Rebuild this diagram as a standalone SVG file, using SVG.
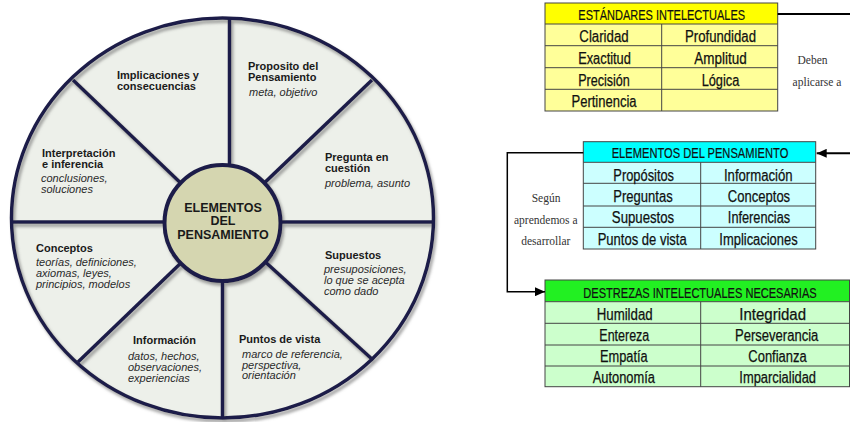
<svg xmlns="http://www.w3.org/2000/svg" width="850" height="422" viewBox="0 0 850 422">
<defs>
<filter id="sh" x="-10%" y="-10%" width="120%" height="120%">
<feDropShadow dx="2" dy="3" stdDeviation="1.6" flood-color="#7a7a7a" flood-opacity="0.7"/>
</filter>
<marker id="arr" markerUnits="userSpaceOnUse" markerWidth="10" markerHeight="9" refX="10" refY="4.5" orient="auto">
<path d="M0,0 L10,4.5 L0,9 z" fill="#000"/>
</marker>
</defs>
<style>
.b{font-family:"Liberation Sans",Arial,sans-serif;font-weight:bold;font-size:11px;fill:#1a1a1a}
.i{font-family:"Liberation Sans",Arial,sans-serif;font-style:italic;font-size:11px;fill:#2a2a2a}
.c{font-family:"Liberation Sans",Arial,sans-serif;font-weight:bold;font-size:12.5px;fill:#1a1a1a;text-anchor:middle}
.spk{stroke:#1f1f48;stroke-width:3.5;fill:none}
.t{font-family:"Liberation Sans Narrow","Liberation Sans",Arial,sans-serif;font-size:16px;fill:#111;stroke:#111;stroke-width:0.25;text-anchor:middle}
.h{font-family:"Liberation Sans Narrow","Liberation Sans",Arial,sans-serif;font-size:14.5px;fill:#111;stroke:#111;stroke-width:0.2;text-anchor:middle}
.g{stroke:#444;stroke-width:1;fill:none}
.s{font-family:"Liberation Serif","Times New Roman",serif;font-size:11.5px;fill:#333;text-anchor:middle}
.cn{stroke:#000;fill:none}
</style>
<rect width="850" height="422" fill="#fff"/>

<g id="wheel">
<ellipse cx="222.5" cy="218" rx="211" ry="200" fill="#edf0ea"/>
<g filter="url(#sh)">
<ellipse cx="222.5" cy="218" rx="211" ry="200" class="spk" stroke-width="3"/>
<line x1="229.5" y1="18" x2="229.5" y2="170" class="spk"/>
<line x1="222.5" y1="418" x2="222.5" y2="275" class="spk"/>
<line x1="11.5" y1="222" x2="170" y2="222" class="spk"/>
<line x1="433.5" y1="222" x2="275" y2="222" class="spk"/>
<line x1="73" y1="80" x2="222.5" y2="223" class="spk"/>
<line x1="372" y1="80" x2="222.5" y2="223" class="spk"/>
<line x1="78" y1="362" x2="222.5" y2="223" class="spk"/>
<line x1="373" y1="360" x2="222.5" y2="223" class="spk"/>
<circle cx="222.5" cy="223" r="58" fill="#d5d6b0" stroke="#1f1f48" stroke-width="4"/>
</g>
</g>

<g id="centro">
<text class="c" x="223" y="212">ELEMENTOS</text>
<text class="c" x="223" y="225">DEL</text>
<text class="c" x="223" y="238.5">PENSAMIENTO</text>
</g>
<g id="proposito">
<text class="b" x="248" y="69.5">Proposito del</text>
<text class="b" x="248" y="80.5">Pensamiento</text>
<text class="i" x="249" y="95.5">meta, objetivo</text>
</g>
<g id="implicaciones">
<text class="b" x="117" y="79">Implicaciones y</text>
<text class="b" x="117" y="90">consecuencias</text>
</g>
<g id="interpretacion">
<text class="b" x="42" y="157">Interpretación</text>
<text class="b" x="42" y="168">e inferencia</text>
<text class="i" x="41" y="182">conclusiones,</text>
<text class="i" x="41" y="193">soluciones</text>
</g>
<g id="pregunta">
<text class="b" x="325" y="161">Pregunta en</text>
<text class="b" x="325" y="172">cuestión</text>
<text class="i" x="325" y="186.5">problema, asunto</text>
</g>
<g id="conceptos">
<text class="b" x="36" y="252">Conceptos</text>
<text class="i" x="36" y="266">teorías, definiciones,</text>
<text class="i" x="36" y="277">axiomas, leyes,</text>
<text class="i" x="36" y="288">principios, modelos</text>
</g>
<g id="supuestos">
<text class="b" x="325" y="259">Supuestos</text>
<text class="i" x="324" y="273">presuposiciones,</text>
<text class="i" x="324" y="284">lo que se acepta</text>
<text class="i" x="324" y="295">como dado</text>
</g>
<g id="informacion">
<text class="b" x="133" y="344">Información</text>
<text class="i" x="128" y="360">datos, hechos,</text>
<text class="i" x="128" y="371">observaciones,</text>
<text class="i" x="128" y="382">experiencias</text>
</g>
<g id="puntos">
<text class="b" x="239" y="343">Puntos de vista</text>
<text class="i" x="242" y="358">marco de referencia,</text>
<text class="i" x="242" y="368.5">perspectiva,</text>
<text class="i" x="242" y="379">orientación</text>
</g>

<g id="estandares">
<rect x="545" y="3" width="232.7" height="21" fill="#ffff00"/>
<rect x="545" y="24" width="232.7" height="87" fill="#ffff99"/>
<rect x="545" y="3" width="232.7" height="108" class="g" stroke="#333"/>
<path class="g" d="M545,24H777.7M545,45.7H777.7M545,67.7H777.7M545,89.3H777.7M661.7,24V111"/>
<text class="h" x="661.7" y="20" textLength="166.7" lengthAdjust="spacingAndGlyphs">ESTÁNDARES INTELECTUALES</text>
<text class="t" x="604" y="42.3" textLength="49.3" lengthAdjust="spacingAndGlyphs">Claridad</text>
<text class="t" x="720.5" y="42.3" textLength="71" lengthAdjust="spacingAndGlyphs">Profundidad</text>
<text class="t" x="604.5" y="64" textLength="52.7" lengthAdjust="spacingAndGlyphs">Exactitud</text>
<text class="t" x="720.5" y="64" textLength="52.3" lengthAdjust="spacingAndGlyphs">Amplitud</text>
<text class="t" x="604" y="86" textLength="51.7" lengthAdjust="spacingAndGlyphs">Precisión</text>
<text class="t" x="720.5" y="86" textLength="37.7" lengthAdjust="spacingAndGlyphs">Lógica</text>
<text class="t" x="604" y="106.7" textLength="65" lengthAdjust="spacingAndGlyphs">Pertinencia</text>
</g>

<g id="elementos">
<rect x="583.3" y="141.7" width="232.4" height="20.6" fill="#00ffff"/>
<rect x="583.3" y="162.3" width="232.4" height="86.7" fill="#ccffff"/>
<rect x="583.3" y="141.7" width="232.4" height="107.3" class="g" stroke="#333"/>
<path class="g" d="M583.3,162.3H815.7M583.3,183.3H815.7M583.3,206H815.7M583.3,227.3H815.7M700.7,162.3V249"/>
<text class="h" x="700" y="158.3" textLength="176.7" lengthAdjust="spacingAndGlyphs">ELEMENTOS DEL PENSAMIENTO</text>
<text class="t" x="643.7" y="180.7" textLength="60.7" lengthAdjust="spacingAndGlyphs">Propósitos</text>
<text class="t" x="758.3" y="180.7" textLength="68.7" lengthAdjust="spacingAndGlyphs">Información</text>
<text class="t" x="643" y="201.5" textLength="59.3" lengthAdjust="spacingAndGlyphs">Preguntas</text>
<text class="t" x="759" y="201.5" textLength="62.3" lengthAdjust="spacingAndGlyphs">Conceptos</text>
<text class="t" x="643" y="223.3" textLength="62.3" lengthAdjust="spacingAndGlyphs">Supuestos</text>
<text class="t" x="759" y="223.3" textLength="62.3" lengthAdjust="spacingAndGlyphs">Inferencias</text>
<text class="t" x="642.2" y="245" textLength="89" lengthAdjust="spacingAndGlyphs">Puntos de vista</text>
<text class="t" x="758.5" y="245" textLength="78.3" lengthAdjust="spacingAndGlyphs">Implicaciones</text>
</g>

<g id="destrezas">
<rect x="545" y="280" width="305" height="21.7" fill="#22f022"/>
<rect x="545" y="301.7" width="305" height="85" fill="#ccffcc"/>
<rect x="545" y="280" width="304.5" height="106.7" class="g" stroke="#333"/>
<path class="g" d="M545,301.7H850M545,323.3H850M545,345H850M545,366H850M700.7,301.7V386.7"/>
<text class="h" x="700" y="298.3" textLength="233.3" lengthAdjust="spacingAndGlyphs">DESTREZAS INTELECTUALES NECESARIAS</text>
<text class="t" x="624.7" y="320" textLength="56" lengthAdjust="spacingAndGlyphs">Humildad</text>
<text class="t" x="772.7" y="320" textLength="66.7" lengthAdjust="spacingAndGlyphs">Integridad</text>
<text class="t" x="624.3" y="340.7" textLength="50" lengthAdjust="spacingAndGlyphs">Entereza</text>
<text class="t" x="776.7" y="340.7" textLength="83.3" lengthAdjust="spacingAndGlyphs">Perseverancia</text>
<text class="t" x="623.8" y="361.7" textLength="47.7" lengthAdjust="spacingAndGlyphs">Empatía</text>
<text class="t" x="777.5" y="361.7" textLength="58.3" lengthAdjust="spacingAndGlyphs">Confianza</text>
<text class="t" x="623.8" y="382.7" textLength="62.3" lengthAdjust="spacingAndGlyphs">Autonomía</text>
<text class="t" x="777.7" y="382.7" textLength="76.7" lengthAdjust="spacingAndGlyphs">Imparcialidad</text>
</g>

<g id="connectors">
<line class="cn" x1="777.7" y1="14" x2="850" y2="14" stroke-width="2"/>
<line class="cn" x1="850" y1="153.3" x2="816.7" y2="153.3" stroke-width="2" marker-end="url(#arr)"/>
<polyline class="cn" points="583.3,152.7 507.3,152.7 507.3,291.7 545,291.7" stroke-width="1.5" marker-end="url(#arr)"/>
</g>

<g id="labels">
<text class="s" x="812.5" y="64">Deben</text>
<text class="s" x="817" y="86">aplicarse a</text>
<text class="s" x="546" y="202">Según</text>
<text class="s" x="545.8" y="224">aprendemos a</text>
<text class="s" x="545.8" y="245">desarrollar</text>
</g>
</svg>
